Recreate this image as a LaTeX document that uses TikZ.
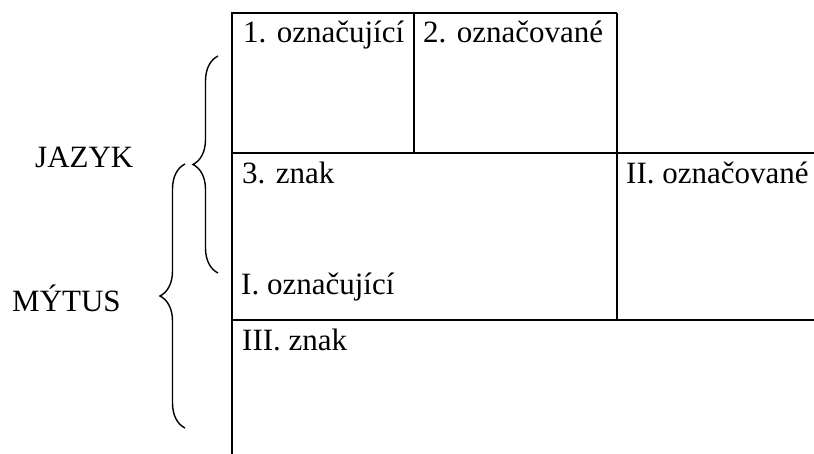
\documentclass[tikz,border=0pt]{standalone}
\usepackage{fontspec}
\setmainfont{Liberation Serif}
\usetikzlibrary{decorations.pathreplacing}
\begin{document}
\begin{tikzpicture}[x=1pt,y=-1pt,
  gridline/.style={line width=2.2pt},
  lbl/.style={anchor=base west,inner sep=0pt,font=\fontsize{31}{36}\selectfont},
  bracestyle/.style={line width=1.4pt,decorate,decoration={brace,amplitude=25pt,aspect=0.5}}]
\useasboundingbox (0,0) rectangle (814,454);
% grid
\draw[gridline] (617,13) -- (232,13) -- (232,454);
\draw[gridline] (414,13) -- (414,153);
\draw[gridline] (617,13) -- (617,320);
\draw[gridline] (232,153) -- (814,153);
\draw[gridline] (232,320) -- (814,320);
% labels
\node[lbl] (s1) at (243,43) {1. označující};
\node[lbl] (s2) at (423,43) {2. označované};
\node[lbl] (s3) at (242,184) {3. znak};
\node[lbl] (sI) at (241,295) {I. označující};
\node[lbl] (sII) at (626,184) {II. označované};
\node[lbl] (sIII) at (242,351) {III. znak};
\node[lbl] (jazyk) at (35,168) {JAZYK};
\node[lbl] (mytus) at (12,312) {MÝTUS};
% braces
\coordinate (jb) at (218,273);
\coordinate (jt) at (218,56);
\coordinate (mb) at (185,428);
\coordinate (mt) at (185,164);
\draw[bracestyle] (jb) -- (jt);
\draw[bracestyle] (mb) -- (mt);
\end{tikzpicture}
\end{document}
